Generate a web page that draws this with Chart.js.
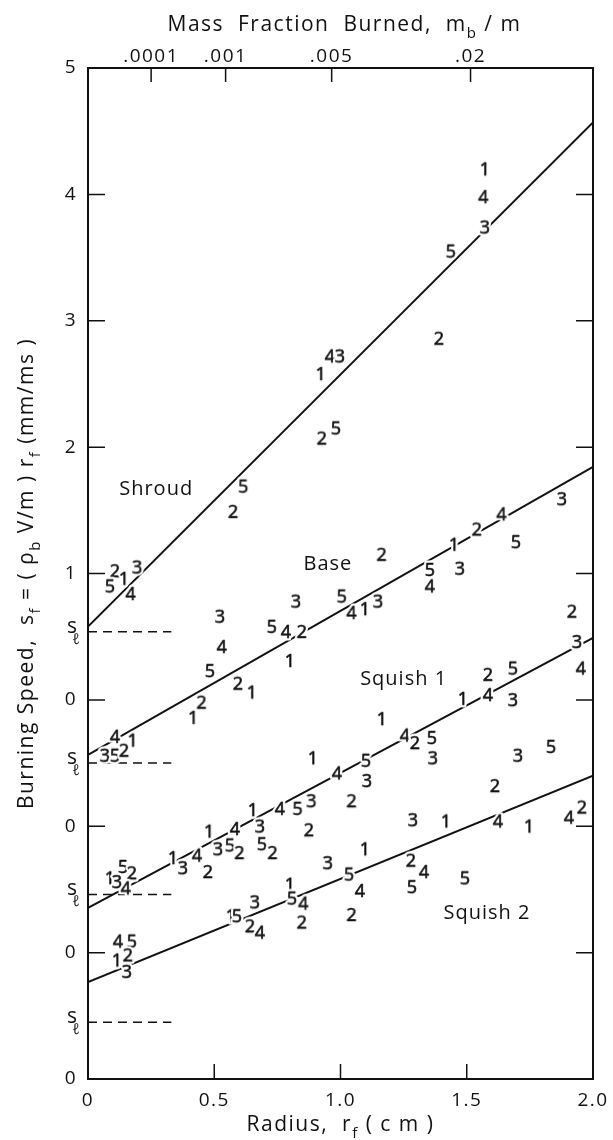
<!DOCTYPE html>
<html>
<head>
<meta charset="utf-8">
<script src="https://cdn.jsdelivr.net/npm/chart.js@4.4.1/dist/chart.umd.min.js"></script>
<style>
  html, body { margin: 0; padding: 0; background: #fff; }
  canvas { display: block; }
</style>
</head>
<body>
<canvas id="burnChart" width="613" height="1140"></canvas>
<script>
// groups are stacked, each one shifted down by one unit
const groupNames = ['Shroud', 'Base', 'Squish 1', 'Squish 2'];
const groupOffsets = [0, -1, -2, -3];

// run number, radius (cm), burning speed (mm/ms)
const shroudRuns = [2, 5, 1, 3, 4, 5, 2, 1, 4, 3, 2, 5, 5, 2, 1, 4, 3];
const shroudRadius = [0.107, 0.087, 0.143, 0.195, 0.169, 0.615, 0.575, 0.922, 0.958, 0.998, 0.926, 0.982, 1.437, 1.39, 1.572, 1.566, 1.572];
const shroudSpeed = [1.01, 0.89, 0.95, 1.04, 0.83, 1.68, 1.48, 2.57, 2.71, 2.71, 2.06, 2.14, 3.54, 2.85, 4.19, 3.97, 3.73];

const baseRuns = [3, 4, 5, 5, 4, 2, 3, 1, 5, 4, 1, 3, 2, 5, 4, 3, 1, 2, 4, 5, 3, 2, 1, 2, 1, 4, 1, 3, 5, 2];
const baseRadius = [0.523, 0.53, 0.483, 0.728, 0.784, 0.847, 0.824, 0.80, 1.005, 1.044, 1.097, 1.149, 1.163, 1.354, 1.354, 1.473, 1.45, 1.54, 1.638, 1.695, 1.877, 0.594, 0.649, 0.45, 0.417, 0.107, 0.177, 0.067, 0.107, 0.143];
const baseSpeed = [1.65, 1.41, 1.22, 1.57, 1.53, 1.53, 1.77, 1.30, 1.81, 1.68, 1.71, 1.77, 2.14, 2.02, 1.89, 2.03, 2.22, 2.34, 2.46, 2.24, 2.58, 1.12, 1.05, 0.97, 0.85, 0.70, 0.67, 0.55, 0.55, 0.59];

const squish1Runs = [5, 2, 1, 3, 4, 1, 3, 4, 2, 1, 3, 5, 2, 4, 1, 3, 5, 2, 4, 5, 3, 2, 1, 4, 5, 3, 2, 1, 4, 2, 5, 3, 1, 4, 3, 2, 5, 4, 3, 5, 2, 3];
const squish1Radius = [0.139, 0.174, 0.087, 0.115, 0.150, 0.337, 0.376, 0.432, 0.475, 0.48, 0.515, 0.562, 0.60, 0.582, 0.653, 0.681, 0.689, 0.731, 0.76, 0.83, 0.885, 0.875, 0.891, 0.986, 1.101, 1.105, 1.044, 1.164, 1.255, 1.295, 1.362, 1.366, 1.485, 1.584, 1.683, 1.584, 1.683, 1.952, 1.703, 1.834, 1.917, 1.937];
const squish1Speed = [0.67, 0.62, 0.58, 0.55, 0.50, 0.74, 0.66, 0.76, 0.63, 0.95, 0.81, 0.84, 0.78, 0.97, 1.12, 0.99, 0.85, 0.78, 1.13, 1.13, 1.19, 0.96, 1.53, 1.41, 1.51, 1.35, 1.19, 1.84, 1.71, 1.65, 1.69, 1.53, 2.00, 2.03, 1.99, 2.19, 2.24, 2.24, 1.55, 1.62, 2.69, 2.45];

const squish2Runs = [4, 5, 1, 2, 3, 1, 5, 3, 2, 4, 1, 5, 4, 2, 3, 1, 5, 4, 2, 3, 1, 4, 1, 4, 2, 2, 4, 5, 5, 2];
const squish2Radius = [0.119, 0.174, 0.115, 0.158, 0.154, 0.566, 0.59, 0.661, 0.642, 0.681, 0.80, 0.808, 0.853, 0.847, 0.95, 1.097, 1.034, 1.077, 1.044, 1.287, 1.418, 1.624, 1.747, 1.905, 1.956, 1.279, 1.331, 1.283, 1.493, 1.612];
const squish2Speed = [1.08, 1.08, 0.93, 0.97, 0.84, 1.28, 1.28, 1.39, 1.20, 1.15, 1.53, 1.42, 1.38, 1.23, 1.70, 1.81, 1.61, 1.48, 1.29, 2.04, 2.03, 2.03, 1.99, 2.06, 2.14, 1.72, 1.63, 1.51, 1.58, 2.31];

// fitted lines: speed at r = 0 and at r = 2.0
const fitStart = [0.58, 0.565, 0.355, 0.767];
const fitEnd = [4.57, 2.843, 2.49, 2.40];
// laminar speed s_l (dashed) and how far the dash runs
const laminarSpeed = [0.54, 0.50, 0.46, 0.45];
const laminarReach = 0.33;

const radiusTicks = [0, 0.5, 1.0, 1.5, 2.0];
const radiusTickLabels = ['0', '0.5', '1.0', '1.5', '2.0'];
const massFracTicks = [0.25, 0.545, 0.965, 1.515];
const massFracLabels = ['.0001', '.001', '.005', '.02'];
const speedTicks = [-3, -2, -1, 0, 1, 2, 3, 4, 5];
const speedTickLabels = ['0', '0', '0', '0', '1', '2', '3', '4', '5'];

const groupLabelX = [0.27, 0.95, 1.25, 1.58];
const groupLabelY = [1.67, 1.07, 0.16, -1.69];

const FONT = '"Open Sans", "DejaVu Sans", sans-serif';
const INK = '#111';

function makeDigit(d) {
    const c = document.createElement('canvas');
    c.width = 18;
    c.height = 24;
    const g = c.getContext('2d');
    g.font = '18px ' + FONT;
    g.textAlign = 'center';
    g.textBaseline = 'middle';
    g.lineJoin = 'round';
    g.strokeStyle = '#fff';
    g.lineWidth = 5;
    g.strokeText(String(d), 9, 12);
    g.fillStyle = INK;
    g.strokeStyle = INK;
    g.lineWidth = 0.6;
    g.fillText(String(d), 9, 12);
    g.strokeText(String(d), 9, 12);
    return c;
}
const digitImgs = {};
[1, 2, 3, 4, 5].forEach(function (d) { digitImgs[d] = makeDigit(d); });

const groups = [
    { runs: shroudRuns, r: shroudRadius, s: shroudSpeed },
    { runs: baseRuns, r: baseRadius, s: baseSpeed },
    { runs: squish1Runs, r: squish1Radius, s: squish1Speed },
    { runs: squish2Runs, r: squish2Radius, s: squish2Speed }
];

const datasets = [];
groups.forEach(function (g, i) {
    datasets.push({
        label: groupNames[i],
        data: g.r.map(function (r, k) { return { x: r, y: g.s[k] + groupOffsets[i] }; }),
        pointStyle: function (ctx) { return digitImgs[g.runs[ctx.dataIndex]]; },
        order: 0
    });
});
groups.forEach(function (g, i) {
    const off = groupOffsets[i];
    datasets.push({
        label: groupNames[i] + ' fit',
        data: [{ x: 0, y: fitStart[i] + off }, { x: 2, y: fitEnd[i] + off }],
        showLine: true,
        borderColor: INK,
        borderWidth: 2,
        pointRadius: 0,
        order: 1
    });
    datasets.push({
        label: groupNames[i] + ' s_l',
        data: [{ x: 0, y: laminarSpeed[i] + off }, { x: laminarReach, y: laminarSpeed[i] + off }],
        showLine: true,
        borderColor: INK,
        borderWidth: 1.5,
        borderDash: [9, 6],
        pointRadius: 0,
        order: 1
    });
});

// text with subscripts: parts = [[text, isSub], ...], centred on x
function drawRich(ctx, parts, x, y, size) {
    const big = size + 'px ' + FONT;
    const small = Math.round(size * 0.72) + 'px ' + FONT;
    let w = 0;
    parts.forEach(function (p) {
        ctx.font = p[1] ? small : big;
        w += ctx.measureText(p[0]).width;
    });
    let cx = x - w / 2;
    ctx.textAlign = 'left';
    ctx.textBaseline = 'alphabetic';
    parts.forEach(function (p) {
        ctx.font = p[1] ? small : big;
        ctx.fillText(p[0], cx, p[1] ? y + size * 0.32 : y);
        cx += ctx.measureText(p[0]).width;
    });
}

const framePlugin = {
    id: 'frame',
    beforeDraw: function (chart) {
        chart.ctx.letterSpacing = '1.5px';
    },
    afterDraw: function (chart) {
        const ctx = chart.ctx;
        const a = chart.chartArea;
        const sx = chart.scales.x, sy = chart.scales.y, st = chart.scales.xTop;
        ctx.save();
        ctx.strokeStyle = INK;
        ctx.fillStyle = INK;
        ctx.lineWidth = 2;
        ctx.strokeRect(a.left, a.top, a.right - a.left, a.bottom - a.top);

        // inward tick marks
        ctx.lineWidth = 1.5;
        ctx.beginPath();
        speedTicks.forEach(function (v) {
            if (v <= -3 || v >= 5) return;
            const y = sy.getPixelForValue(v);
            ctx.moveTo(a.left, y); ctx.lineTo(a.left + 17, y);
            ctx.moveTo(a.right, y); ctx.lineTo(a.right - 17, y);
        });
        radiusTicks.forEach(function (v) {
            if (v <= 0 || v >= 2) return;
            const x = sx.getPixelForValue(v);
            ctx.moveTo(x, a.bottom); ctx.lineTo(x, a.bottom - 15);
        });
        massFracTicks.forEach(function (v) {
            const x = st.getPixelForValue(v);
            ctx.moveTo(x, a.top); ctx.lineTo(x, a.top + 14);
        });
        ctx.stroke();

        // s_l labels next to the dashed lines
        ctx.letterSpacing = '0px';
        laminarSpeed.forEach(function (s, i) {
            const y = sy.getPixelForValue(s + groupOffsets[i]);
            ctx.textAlign = 'right';
            ctx.textBaseline = 'alphabetic';
            ctx.font = '21px ' + FONT;
            ctx.fillText('s', 77, y + 1);
            ctx.textAlign = 'center';
            ctx.font = 'italic 15px ' + FONT;
            ctx.fillText('ℓ', 76, y + 12);
        });

        // group names
        ctx.letterSpacing = '1px';
        ctx.font = '20px ' + FONT;
        ctx.textAlign = 'center';
        ctx.textBaseline = 'middle';
        groupNames.forEach(function (n, i) {
            ctx.fillText(n, sx.getPixelForValue(groupLabelX[i]), sy.getPixelForValue(groupLabelY[i]));
        });

        // axis titles
        ctx.letterSpacing = '1.5px';
        const midX = (a.left + a.right) / 2;
        drawRich(ctx, [['Mass  Fraction  Burned,  m', false], ['b', true], [' / m', false]], midX + 4, 31, 21);
        drawRich(ctx, [['Radius,  r', false], ['f', true], [' ( c m )', false]], midX, 1131, 21);
        ctx.translate(33, (a.top + a.bottom) / 2);
        ctx.rotate(-Math.PI / 2);
        drawRich(ctx, [['Burning Speed,  s', false], ['f', true], [' = ( ρ', false], ['b', true], [' V/m ) r', false], ['f', true], [' (mm/ms )', false]], 0, 0, 21);
        ctx.restore();
    }
};

Chart.defaults.font.family = FONT;
Chart.defaults.font.size = 19;
Chart.defaults.color = INK;

new Chart(document.getElementById('burnChart').getContext('2d'), {
    type: 'scatter',
    data: { datasets: datasets },
    options: {
        responsive: false,
        animation: false,
        devicePixelRatio: 1,
        layout: { padding: { left: 0, right: 20, top: 0, bottom: 0 } },
        plugins: { legend: { display: false }, tooltip: { enabled: false } },
        scales: {
            x: {
                type: 'linear', position: 'bottom', min: 0, max: 2,
                grid: { display: false }, border: { display: false },
                afterBuildTicks: function (s) { s.ticks = radiusTicks.map(function (v) { return { value: v }; }); },
                ticks: { autoSkip: false, maxRotation: 0, padding: 2, callback: function (v, i) { return radiusTickLabels[i]; } },
                afterFit: function (s) { s.height = 61; }
            },
            xTop: {
                type: 'linear', position: 'top', min: 0, max: 2,
                grid: { display: false }, border: { display: false },
                afterBuildTicks: function (s) { s.ticks = massFracTicks.map(function (v) { return { value: v }; }); },
                ticks: { autoSkip: false, maxRotation: 0, padding: -8, callback: function (v, i) { return massFracLabels[i]; } },
                afterFit: function (s) { s.height = 68; }
            },
            y: {
                type: 'linear', min: -3, max: 5,
                grid: { display: false }, border: { display: false },
                afterBuildTicks: function (s) { s.ticks = speedTicks.map(function (v) { return { value: v }; }); },
                ticks: { autoSkip: false, padding: 3, callback: function (v, i) { return speedTickLabels[i]; } },
                afterFit: function (s) { s.width = 88; }
            }
        }
    },
    plugins: [framePlugin]
});
</script>
</body>
</html>
